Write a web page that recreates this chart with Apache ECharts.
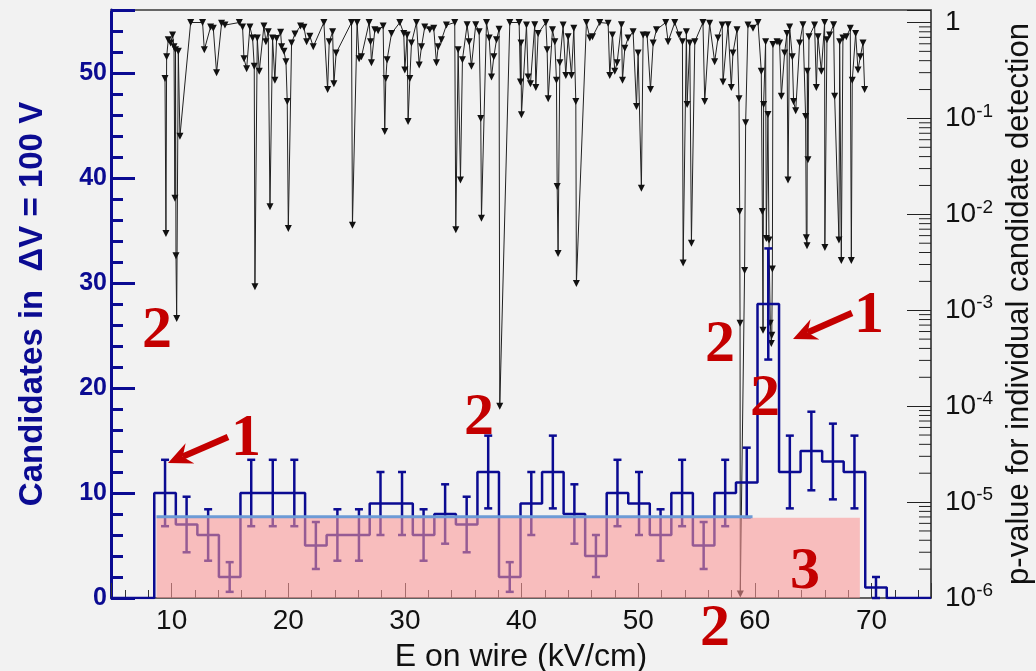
<!DOCTYPE html>
<html>
<head>
<meta charset="utf-8">
<script src="https://cdn.jsdelivr.net/npm/echarts@6/dist/echarts.min.js"></script>
<style>
  html, body { margin: 0; padding: 0; background: #f2f2f2; }
  #chart { width: 1036px; height: 671px; }
</style>
</head>
<body>
<div id="chart"></div>
<script>
// Candidate counts per 100 V step (histogram bins)
const binStart = 8.51;   // kV/cm, lower edge of the first bin
const binWidth = 1.847;  // kV/cm covered by one 100 V step
const counts = [10, 7, 6, 2, 10, 10, 10, 5, 6, 6, 9, 9, 6, 8, 7, 12, 2,
                9, 12, 8, 4, 10, 9, 6, 10, 5, 10, 11, 28, 12, 14, 13, 12, 1];

// p-value of each individual candidate (E on wire, kV/cm)
const pE = [
  9.43, 9.51, 9.57, 9.71, 9.91, 10.08, 10.2, 10.28, 10.33, 10.37, 10.43, 10.57, 10.71, 11.63, 12.65, 12.8,
  13.34, 13.57, 13.85, 14.28, 14.57, 15.8, 16.08, 16.2, 16.43, 16.71, 16.94, 17.08, 17.14, 17.34, 17.51, 17.91,
  18.08, 18.28, 18.43, 18.65, 18.85, 19.0, 19.34, 19.43, 19.63, 19.8, 19.91, 20.0, 20.28, 20.57, 21.05, 21.34,
  21.57, 21.85, 22.14, 23.05, 23.37, 23.51, 23.8, 23.91, 24.1, 25.42, 25.5, 25.9, 26.07, 26.27, 26.93, 27.05,
  27.13, 27.42, 27.7, 28.13, 28.27, 28.36, 28.47, 28.85, 29.56, 29.9, 29.99, 30.19, 30.27, 30.42, 30.56, 30.99,
  31.22, 31.42, 31.7, 32.13, 32.47, 32.7, 32.85, 33.13, 33.56, 34.27, 34.36, 34.56, 34.76, 34.93, 35.33, 35.5,
  35.7, 36.07, 36.36, 36.5, 36.56, 36.99, 37.22, 37.42, 37.62, 37.85, 38.07, 38.13, 38.99, 39.79, 39.9, 39.95,
  39.99, 40.42, 40.56, 40.76, 41.13, 41.22, 41.42, 42.08, 42.19, 42.28, 42.65, 42.85, 42.99, 43.05, 43.13, 43.28,
  43.56, 43.79, 43.99, 44.28, 44.48, 44.65, 44.7, 45.56, 45.85, 46.08, 46.7, 47.42, 47.56, 47.79, 47.99, 48.19,
  48.56, 48.65, 48.85, 49.13, 49.56, 49.85, 49.99, 50.27, 50.42, 50.76, 51.05, 51.28, 51.56, 52.36, 52.56, 53.13,
  53.5, 53.79, 53.85, 54.13, 54.19, 54.42, 54.56, 54.85, 55.55, 55.7, 56.12, 56.55, 56.84, 57.2, 57.27, 57.7,
  57.98, 58.12, 58.47, 58.64, 58.7, 58.73, 58.75, 59.12, 59.21, 59.41, 59.84, 60.27, 60.55, 60.64, 60.7, 60.75,
  60.92, 60.98, 61.12, 61.21, 61.32, 61.41, 61.45, 61.5, 61.55, 61.9, 62.12, 62.27, 62.55, 62.75, 62.84, 62.98,
  63.21, 63.32, 63.5, 63.84, 64.12, 64.35, 64.41, 64.47, 64.5, 64.55, 64.64, 65.12, 65.27, 65.41, 65.7, 65.98,
  66.0, 66.18, 66.41, 66.75, 66.84, 67.21, 67.27, 67.41, 67.55, 67.84, 68.18, 68.27, 68.35, 68.64, 68.84, 69.04,
  69.27, 69.41
];
const pV = [
  0.26, 0.0063, 0.44, 0.66, 0.61, 0.74, 0.56, 0.0147, 0.52, 0.0037, 0.00082, 0.5, 0.065, 1.0, 1.0, 0.52,
  0.9, 0.87, 0.30, 0.98, 0.94, 1.0, 0.9, 0.42, 0.33, 0.9, 0.69, 0.35, 0.00176, 0.69, 0.31, 0.92,
  0.63, 0.80, 0.012, 0.69, 0.25, 0.68, 0.79, 0.56, 0.5, 0.39, 0.15, 0.0071, 0.61, 0.76, 0.92, 0.89,
  0.63, 0.72, 0.56, 1.0, 0.20, 0.63, 0.8, 0.23, 0.48, 1.0, 0.0077, 1.0, 0.42, 0.44, 1.0, 0.63,
  0.38, 0.84, 0.82, 0.92, 0.073, 0.26, 0.41, 0.77, 1.0, 0.77, 0.32, 0.74, 0.093, 0.26, 0.61, 1.0,
  0.36, 0.56, 0.9, 0.84, 0.87, 0.38, 0.56, 0.66, 0.94, 1.0, 0.0069, 0.52, 0.0228, 0.41, 0.95, 0.63,
  0.35, 0.95, 0.8, 0.1, 0.0091, 1.0, 0.69, 0.27, 0.44, 0.66, 0.85, 0.0001, 1.0, 1.0, 0.24, 0.61,
  0.109, 0.94, 0.27, 0.23, 0.95, 0.21, 0.77, 1.0, 0.52, 0.16, 0.84, 0.63, 0.25, 0.0195, 0.0039, 0.38,
  0.94, 0.28, 0.71, 0.28, 0.87, 0.15, 0.0019, 1.0, 0.69, 0.71, 1.0, 0.98, 0.28, 0.74, 0.31, 0.38,
  0.95, 0.25, 0.54, 0.69, 0.8, 0.133, 0.48, 0.0187, 0.74, 0.74, 0.20, 0.61, 0.84, 1.0, 0.63, 1.0,
  0.74, 0.63, 0.0031, 0.8, 0.14, 0.61, 0.005, 0.63, 1.0, 0.15, 0.98, 0.39, 0.69, 0.94, 0.24, 0.95,
  0.21, 0.48, 0.84, 0.16, 0.0107, 0.00073, 0.0000011, 0.0026, 0.09, 0.94, 0.87, 1.0, 0.31, 0.0107, 0.00062, 0.14,
  0.63, 0.0056, 0.11, 0.0054, 0.00073, 0.00045, 0.00055, 0.0027, 0.59, 0.63, 0.61, 0.17, 0.48, 0.77, 0.0228, 0.9,
  0.44, 0.15, 0.12, 0.61, 0.95, 0.105, 0.0057, 0.0047, 0.31, 0.037, 0.71, 0.94, 0.21, 0.71, 0.31, 1.0,
  0.0045, 0.66, 0.74, 0.95, 0.17, 0.0054, 0.63, 0.0033, 0.69, 0.71, 0.87, 0.0033, 0.25, 0.77, 0.32, 0.44,
  0.61, 0.2
];

// Expected background level and the region it covers
const bandE = [8.7, 69.0];
const bandLevel = 7.65;
const fitE = [8.7, 59.8];
const fitLevel = 7.75;

// Axis ranges
const eRange = [4.8, 75.1];
const countRange = [0, 56];
const pRange = [1e-6, 1.35];

const BLUE = '#0b0b92';
const RED = '#c40000';

// Step outline of the histogram, including the empty ends
const stepData = [[eRange[0], 0]];
counts.forEach((c, i) => stepData.push([binStart + i * binWidth, c]));
stepData.push([binStart + counts.length * binWidth, 0]);
stepData.push([eRange[1], 0]);

// Poisson error bars at bin centres
const errData = counts.map((c, i) => [binStart + (i + 0.5) * binWidth, c, Math.sqrt(c)]);

const pData = pE.map((e, i) => [e, pV[i]]);

// Minor ticks of the logarithmic axis (2..9 per decade)
const logMinor = [];
for (let d = -6; d < 0; d++) {
  for (let k = 2; k <= 9; k++) logMinor.push([eRange[1], k * Math.pow(10, d)]);
}

const chart = echarts.init(document.getElementById('chart'), null, { renderer: 'canvas' });

function redText(txt, cx, cy) {
  return {
    type: 'text', x: cx, y: cy, z: 100,
    style: {
      text: txt, fill: RED, font: 'bold 60px "Liberation Serif", serif',
      align: 'center', verticalAlign: 'middle'
    }
  };
}
function arrow(x1, y1, x2, y2) {
  const dx = x2 - x1, dy = y2 - y1, L = Math.hypot(dx, dy);
  const ux = dx / L, uy = dy / L, nx = -uy, ny = ux;
  const head = 24, half = 11, notch = 16;
  const bx = x2 - head * ux, by = y2 - head * uy;
  const nxp = x2 - notch * ux, nyp = y2 - notch * uy;
  return [
    { type: 'line', z: 100, shape: { x1: x1, y1: y1, x2: nxp, y2: nyp },
      style: { stroke: RED, lineWidth: 6.5 } },
    { type: 'polygon', z: 100,
      shape: { points: [[x2, y2], [bx + half * nx, by + half * ny], [nxp, nyp], [bx - half * nx, by - half * ny]] },
      style: { fill: RED } }
  ];
}

const option = {
  backgroundColor: '#f2f2f2',
  animation: false,
  grid: { left: 111, right: 105, top: 10, bottom: 73, containLabel: false, outerBoundsMode: 'none' },
  xAxis: [
    {
      type: 'value', min: eRange[0], max: eRange[1], splitNumber: 7, position: 'bottom',
      name: 'E on wire (kV/cm)', nameLocation: 'middle', nameGap: 43,
      nameTextStyle: { fontSize: 32, color: '#111', fontFamily: 'Liberation Sans' },
      axisLine: { lineStyle: { color: '#333', width: 1.5 } },
      axisTick: { inside: true, length: 15, lineStyle: { color: '#333', width: 1 } },
      axisLabel: {
        fontSize: 28, color: '#111', fontFamily: 'Liberation Sans', margin: 9,
        formatter: v => (Math.abs(v % 10) < 1e-6 ? String(v) : '')
      },
      splitLine: { show: false }
    },
    {
      type: 'value', min: eRange[0], max: eRange[1], splitNumber: 35, position: 'bottom',
      axisLine: { show: false },
      axisTick: { inside: true, length: 8, lineStyle: { color: '#333', width: 1 } },
      axisLabel: { show: false }, splitLine: { show: false }
    },
    {
      type: 'value', min: eRange[0], max: eRange[1], position: 'top',
      axisLine: { lineStyle: { color: '#666', width: 2 } },
      axisTick: { show: false }, axisLabel: { show: false }, splitLine: { show: false }
    }
  ],
  yAxis: [
    {
      type: 'value', min: countRange[0], max: countRange[1], interval: 10, position: 'left',
      name: 'Candidates in  \u0394V = 100 V', nameLocation: 'middle', nameGap: 62, nameRotate: 90,
      nameTextStyle: { fontSize: 33, fontWeight: 'bold', color: BLUE, fontFamily: 'Liberation Sans' },
      axisLine: { lineStyle: { color: BLUE, width: 3 } },
      axisTick: { inside: true, length: 24, lineStyle: { color: BLUE, width: 3 } },
      axisLabel: {
        fontSize: 25, fontWeight: 'bold', color: BLUE, fontFamily: 'Liberation Sans', margin: 4,
        formatter: v => (v % 10 === 0 ? String(v) : '')
      },
      splitLine: { show: false }
    },
    {
      type: 'value', min: countRange[0], max: countRange[1], interval: 2, position: 'left',
      axisLine: { show: false },
      axisTick: { inside: true, length: 12, lineStyle: { color: BLUE, width: 3 } },
      axisLabel: { show: false }, splitLine: { show: false }
    },
    {
      type: 'log', logBase: 10, min: pRange[0], max: pRange[1], interval: 1, position: 'right',
      name: 'p-value for individual candidate detection', nameLocation: 'middle', nameGap: 70, nameRotate: 90,
      nameTextStyle: { fontSize: 31, color: '#111', fontFamily: 'Liberation Sans' },
      axisLine: { show: true, lineStyle: { color: '#222', width: 1.5 } },
      axisTick: { inside: true, length: 24, lineStyle: { color: '#222', width: 1 } },
      axisLabel: {
        color: '#111', fontFamily: 'Liberation Sans', fontSize: 28, margin: 14,
        formatter: v => {
          const ex = Math.log10(v);
          if (Math.abs(ex - Math.round(ex)) > 1e-6) return '';
          const n = Math.round(ex);
          return n === 0 ? '1' : '10{s|' + n + '}';
        },
        rich: { s: { fontSize: 19, fontFamily: 'Liberation Sans', color: '#111', padding: [0, 0, 14, 0] } }
      },
      splitLine: { show: false }
    }
  ],
  series: [
    {
      name: 'p-value', type: 'line', xAxisIndex: 0, yAxisIndex: 2, data: pData,
      showAllSymbol: true, symbol: 'triangle', symbolRotate: 180, symbolSize: 7,
      itemStyle: { color: '#111' }, lineStyle: { color: '#222', width: 1 }, z: 3
    },
    {
      name: 'counts', type: 'line', xAxisIndex: 0, yAxisIndex: 0, data: stepData, step: 'end',
      showSymbol: false, lineStyle: { color: BLUE, width: 2.5 }, z: 4
    },
    {
      name: 'errors', type: 'custom', xAxisIndex: 0, yAxisIndex: 0, data: errData, z: 4,
      encode: { x: 0, y: 1 },
      renderItem: (params, api) => {
        const c = api.value(0), v = api.value(1), e = api.value(2);
        const t = api.coord([c, v + e]), b = api.coord([c, Math.max(0, v - e)]);
        const st = { stroke: BLUE, lineWidth: 2.5 };
        return {
          type: 'group', children: [
            { type: 'line', shape: { x1: t[0], y1: t[1], x2: b[0], y2: b[1] }, style: st },
            { type: 'line', shape: { x1: t[0] - 4, y1: t[1], x2: t[0] + 4, y2: t[1] }, style: st },
            { type: 'line', shape: { x1: b[0] - 4, y1: b[1], x2: b[0] + 4, y2: b[1] }, style: st }
          ]
        };
      }
    },
    {
      name: 'background band', type: 'custom', xAxisIndex: 0, yAxisIndex: 0,
      data: [[bandE[0], bandE[1], bandLevel]], z: 6, encode: { x: [0, 1], y: 2 },
      renderItem: (params, api) => {
        const a = api.coord([api.value(0), api.value(2)]);
        const b = api.coord([api.value(1), 0]);
        return { type: 'rect', shape: { x: a[0], y: a[1], width: b[0] - a[0], height: b[1] - a[1] },
                 style: { fill: 'rgba(252,150,150,0.58)' } };
      }
    },
    {
      name: 'background level', type: 'line', xAxisIndex: 0, yAxisIndex: 0,
      data: [[fitE[0], fitLevel], [fitE[1], fitLevel]], showSymbol: false,
      lineStyle: { color: '#6d9bd6', width: 3 }, z: 7
    },
    {
      name: 'log minor ticks', type: 'custom', xAxisIndex: 0, yAxisIndex: 2, data: logMinor, z: 8,
      encode: { x: 0, y: 1 }, silent: true,
      renderItem: (params, api) => {
        const p = api.coord([api.value(0), api.value(1)]);
        return { type: 'line', shape: { x1: p[0] - 12, y1: p[1], x2: p[0], y2: p[1] },
                 style: { stroke: '#222', lineWidth: 1 } };
      }
    }
  ],
  graphic: [
    redText('2', 157, 331),
    redText('2', 479, 418),
    redText('2', 720, 345),
    redText('2', 765, 399),
    redText('2', 715, 629),
    redText('3', 805, 572),
    redText('1', 246, 439),
    redText('1', 869, 316),
    ...arrow(228, 437, 168, 463),
    ...arrow(852, 313, 793, 339)
  ]
};
chart.setOption(option);
</script>
</body>
</html>
